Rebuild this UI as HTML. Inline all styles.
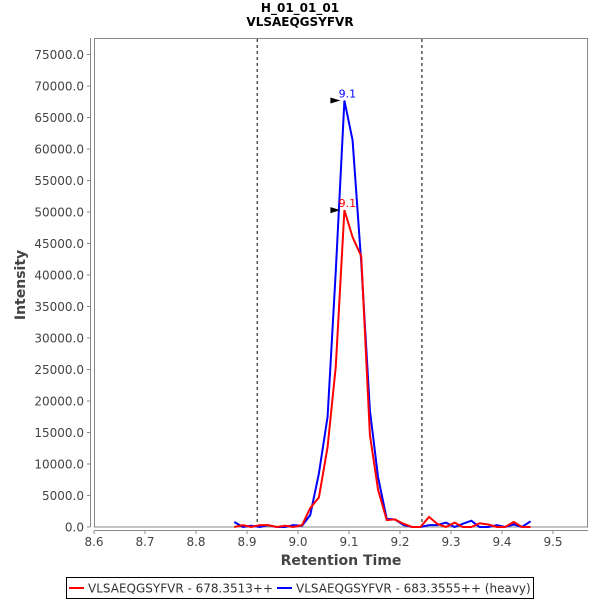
<!DOCTYPE html>
<html><head><meta charset="utf-8"><style>
body{margin:0;background:#fff;font-family:"Liberation Sans","DejaVu Sans",sans-serif}
</style></head><body>
<svg id="chart" width="600" height="600" xmlns="http://www.w3.org/2000/svg" font-family="DejaVu Sans, Liberation Sans, sans-serif">
<rect width="600" height="600" fill="#fff"/>
<text x="300" y="12" text-anchor="middle" font-size="12" font-weight="bold">H_01_01_01</text>
<text x="300" y="26" text-anchor="middle" font-size="12" font-weight="bold">VLSAEQGSYFVR</text>
<rect x="94.5" y="38.5" width="493" height="488.5" fill="#fff" stroke="#888"/>
<line x1="90.5" y1="38" x2="90.5" y2="527" stroke="#888"/>
<line x1="94" y1="530.5" x2="588" y2="530.5" stroke="#888"/>
<g id="yticks"></g><g id="xticks"></g>
<text transform="translate(25,285) rotate(-90)" text-anchor="middle" font-size="14" font-weight="bold" fill="#444">Intensity</text>
<text x="341" y="565" text-anchor="middle" font-size="14" font-weight="bold" fill="#444">Retention Time</text>
<g id="marks"></g>
<g>
<rect x="66.5" y="577.5" width="467" height="21" fill="#fff" stroke="#000"/>
<line x1="69" y1="588" x2="84" y2="588" stroke="red" stroke-width="2"/>
<text x="88" y="592.5" font-size="12" fill="#333">VLSAEQGSYFVR - 678.3513++</text>
<line x1="277" y1="588" x2="292" y2="588" stroke="blue" stroke-width="2"/>
<text x="296" y="592.5" font-size="12" fill="#333">VLSAEQGSYFVR - 683.3555++ (heavy)</text>
</g>
</svg>
<script>
const xTicks=[8.6,8.7,8.8,8.9,9.0,9.1,9.2,9.3,9.4,9.5];
const yTicks=[0,5000,10000,15000,20000,25000,30000,35000,40000,45000,50000,55000,60000,65000,70000,75000];
const times=[8.875,8.892,8.908,8.925,8.941,8.958,8.975,8.991,9.008,9.024,9.041,9.058,9.074,9.091,9.107,9.124,9.141,9.157,9.174,9.190,9.207,9.224,9.240,9.257,9.273,9.290,9.307,9.323,9.340,9.356,9.373,9.390,9.406,9.423,9.439,9.456];
const lightVals=[0,300,0,300,300,0,200,0,300,3000,4700,12700,25400,50300,46000,43000,14600,5900,1100,1200,500,0,0,1600,500,0,700,0,0,600,400,0,0,800,0,0];
const heavyVals=[800,0,200,0,300,0,0,300,200,1900,8500,17500,40500,67700,61400,42000,18500,7900,1300,1200,300,0,0,300,300,700,0,500,1000,0,0,300,0,400,0,900];
const boundaries=[8.920,9.243];
const NS="http://www.w3.org/2000/svg";
const X=t=>94+(t-8.6)*510;
const Y=v=>527-v*(441/70000);
function mk(tag,attrs,parent){const e=document.createElementNS(NS,tag);for(const k in attrs)e.setAttribute(k,attrs[k]);parent.appendChild(e);return e;}
const yt=document.getElementById('yticks'),xt=document.getElementById('xticks'),mg=document.getElementById('marks');
yTicks.forEach(v=>{const y=Y(v);
 mk('line',{x1:87,y1:y,x2:90,y2:y,stroke:'#888'},yt);
 const t=mk('text',{x:84,y:y+4.5,'text-anchor':'end','font-size':12,fill:'#444'},yt);t.textContent=v.toFixed(1);
 
 });
xTicks.forEach(v=>{const x=X(v);
 mk('line',{x1:x,y1:531,x2:x,y2:534,stroke:'#888'},xt);
 const t=mk('text',{x:x,y:546,'text-anchor':'middle','font-size':12,fill:'#444'},xt);t.textContent=v.toFixed(1);
 
 });
boundaries.forEach(b=>{const l=mk('line',{x1:X(b),y1:39,x2:X(b),y2:527,stroke:'#000','stroke-dasharray':'3,3'},mg);
 
 });
function series(vals,color,name){
 const p=mk('polyline',{points:times.map((t,i)=>X(t)+','+Y(vals[i])).join(' '),fill:'none',stroke:color,'stroke-width':2},mg);
 
 
 let mi=0;vals.forEach((v,i)=>{if(v>vals[mi])mi=i;});
 const px=X(times[mi]),py=Y(vals[mi]);
 const a=mk('polygon',{points:`${px-14},${py-3} ${px-4},${py} ${px-14},${py+3}`,fill:'#000'},mg);
 
 
 const t=mk('text',{x:px+3,y:py-3,'text-anchor':'middle','font-size':11,fill:color},mg);t.textContent=times[mi].toFixed(1);
 
 
}
series(heavyVals,'blue','heavy-series-line');
series(lightVals,'red','light-series-line');
</script>
</body></html>
